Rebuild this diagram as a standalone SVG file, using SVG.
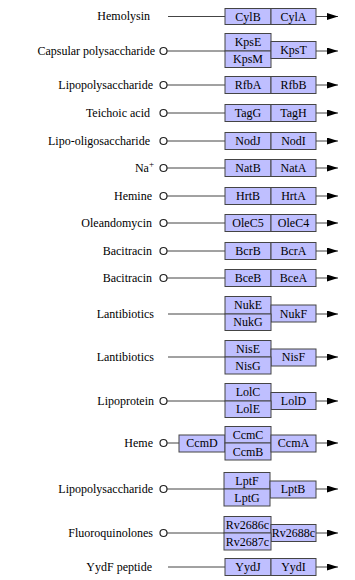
<svg xmlns="http://www.w3.org/2000/svg" width="355" height="580" viewBox="0 0 355 580" font-family="'Liberation Serif', 'DejaVu Serif', serif" font-size="12">
<style>
text{font-family:'Liberation Serif','DejaVu Serif',serif;font-size:12px;fill:#000}
.lbl{text-anchor:end}
.b text{text-anchor:middle}
.b rect{fill:#bfbfff;stroke:#444;stroke-width:1}
.ln{stroke:#444;stroke-width:1;fill:none}
.ci{fill:#fff;stroke:#222;stroke-width:1.2}
</style>
<defs>
<marker id="ah" markerWidth="12" markerHeight="8" refX="11" refY="3.5" orient="auto" markerUnits="userSpaceOnUse">
<path d="M0,0 L11,3.5 L0,7 Z" fill="#000"/>
</marker>
</defs>
<rect width="355" height="580" fill="#fff"/>
<g id="connectors">
<line class="ln" x1="168" y1="16.5" x2="225" y2="16.5"/>
<line class="ln" x1="316" y1="16.5" x2="338" y2="16.5" marker-end="url(#ah)"/>
<line class="ln" x1="167" y1="51" x2="225" y2="51"/>
<line class="ln" x1="316" y1="51" x2="338" y2="51" marker-end="url(#ah)"/>
<line class="ln" x1="167" y1="85" x2="225" y2="85"/>
<line class="ln" x1="316" y1="85" x2="338" y2="85" marker-end="url(#ah)"/>
<line class="ln" x1="167" y1="113" x2="225" y2="113"/>
<line class="ln" x1="316" y1="113" x2="338" y2="113" marker-end="url(#ah)"/>
<line class="ln" x1="167" y1="141" x2="225" y2="141"/>
<line class="ln" x1="316" y1="141" x2="338" y2="141" marker-end="url(#ah)"/>
<line class="ln" x1="167" y1="168" x2="225" y2="168"/>
<line class="ln" x1="316" y1="168" x2="338" y2="168" marker-end="url(#ah)"/>
<line class="ln" x1="167" y1="196" x2="225" y2="196"/>
<line class="ln" x1="316" y1="196" x2="338" y2="196" marker-end="url(#ah)"/>
<line class="ln" x1="167" y1="223" x2="225" y2="223"/>
<line class="ln" x1="316" y1="223" x2="338" y2="223" marker-end="url(#ah)"/>
<line class="ln" x1="167" y1="251" x2="225" y2="251"/>
<line class="ln" x1="316" y1="251" x2="338" y2="251" marker-end="url(#ah)"/>
<line class="ln" x1="167" y1="278" x2="225" y2="278"/>
<line class="ln" x1="316" y1="278" x2="338" y2="278" marker-end="url(#ah)"/>
<line class="ln" x1="168" y1="314" x2="225" y2="314"/>
<line class="ln" x1="316" y1="314" x2="338" y2="314" marker-end="url(#ah)"/>
<line class="ln" x1="168" y1="357" x2="225" y2="357"/>
<line class="ln" x1="316" y1="357" x2="338" y2="357" marker-end="url(#ah)"/>
<line class="ln" x1="167" y1="401" x2="225" y2="401"/>
<line class="ln" x1="316" y1="401" x2="338" y2="401" marker-end="url(#ah)"/>
<line class="ln" x1="167" y1="443" x2="179" y2="443"/>
<line class="ln" x1="316" y1="443" x2="338" y2="443" marker-end="url(#ah)"/>
<line class="ln" x1="167" y1="489" x2="224" y2="489"/>
<line class="ln" x1="316" y1="489" x2="338" y2="489" marker-end="url(#ah)"/>
<line class="ln" x1="167" y1="533" x2="224" y2="533"/>
<line class="ln" x1="316" y1="533" x2="338" y2="533" marker-end="url(#ah)"/>
<line class="ln" x1="168" y1="567" x2="225" y2="567"/>
<line class="ln" x1="316" y1="567" x2="338" y2="567" marker-end="url(#ah)"/>
</g>

<g id="row-hemolysin">
<text class="lbl" x="150" y="20">Hemolysin</text>
<g class="b"><rect x="225" y="8.5" width="46" height="16"/><text x="248" y="21">CylB</text>
<rect x="271" y="8.5" width="45" height="16"/><text x="293.5" y="21">CylA</text></g>
</g>

<g id="row-capsular">
<text class="lbl" x="155" y="55">Capsular polysaccharide</text>
<circle class="ci" cx="163.5" cy="51" r="3.5"/>
<g class="b"><rect x="225" y="33.5" width="46" height="17.5"/><text x="248" y="46">KpsE</text>
<rect x="225" y="51" width="46" height="16.5"/><text x="248" y="63">KpsM</text>
<rect x="271" y="41.5" width="45" height="17"/><text x="293.5" y="54">KpsT</text></g>
</g>

<g id="row-lps1">
<text class="lbl" x="153" y="89">Lipopolysaccharide</text>
<circle class="ci" cx="163.5" cy="85" r="3.5"/>
<g class="b"><rect x="225" y="76.5" width="46" height="17"/><text x="248" y="89">RfbA</text>
<rect x="271" y="76.5" width="45" height="17"/><text x="293.5" y="89">RfbB</text></g>
</g>

<g id="row-teichoic">
<text class="lbl" x="150" y="117">Teichoic acid</text>
<circle class="ci" cx="163.5" cy="113" r="3.5"/>
<g class="b"><rect x="225" y="104.5" width="46" height="17"/><text x="248" y="117">TagG</text>
<rect x="271" y="104.5" width="45" height="17"/><text x="293.5" y="117">TagH</text></g>
</g>

<g id="row-lipooligo">
<text class="lbl" x="150" y="145">Lipo-oligosaccharide</text>
<circle class="ci" cx="163.5" cy="141" r="3.5"/>
<g class="b"><rect x="225" y="132.5" width="46" height="17"/><text x="248" y="145">NodJ</text>
<rect x="271" y="132.5" width="45" height="17"/><text x="293.5" y="145">NodI</text></g>
</g>

<g id="row-na">
<text class="lbl" x="154" y="172">Na<tspan font-size="9" dy="-5">+</tspan></text>
<circle class="ci" cx="163.5" cy="168" r="3.5"/>
<g class="b"><rect x="225" y="159.5" width="46" height="17"/><text x="248" y="172">NatB</text>
<rect x="271" y="159.5" width="45" height="17"/><text x="293.5" y="172">NatA</text></g>
</g>

<g id="row-hemine">
<text class="lbl" x="152" y="200">Hemine</text>
<circle class="ci" cx="163.5" cy="196" r="3.5"/>
<g class="b"><rect x="225" y="187.5" width="46" height="17"/><text x="248" y="200">HrtB</text>
<rect x="271" y="187.5" width="45" height="17"/><text x="293.5" y="200">HrtA</text></g>
</g>

<g id="row-oleandomycin">
<text class="lbl" x="152" y="227">Oleandomycin</text>
<circle class="ci" cx="163.5" cy="223" r="3.5"/>
<g class="b"><rect x="225" y="214.5" width="46" height="17"/><text x="248" y="227">OleC5</text>
<rect x="271" y="214.5" width="45" height="17"/><text x="293.5" y="227">OleC4</text></g>
</g>

<g id="row-bacitracin1">
<text class="lbl" x="152" y="255">Bacitracin</text>
<circle class="ci" cx="163.5" cy="251" r="3.5"/>
<g class="b"><rect x="225" y="242.5" width="46" height="17"/><text x="248" y="255">BcrB</text>
<rect x="271" y="242.5" width="45" height="17"/><text x="293.5" y="255">BcrA</text></g>
</g>

<g id="row-bacitracin2">
<text class="lbl" x="152" y="282">Bacitracin</text>
<circle class="ci" cx="163.5" cy="278" r="3.5"/>
<g class="b"><rect x="225" y="269.5" width="46" height="17"/><text x="248" y="282">BceB</text>
<rect x="271" y="269.5" width="45" height="17"/><text x="293.5" y="282">BceA</text></g>
</g>

<g id="row-lantibiotics1">
<text class="lbl" x="154" y="318">Lantibiotics</text>
<g class="b"><rect x="225" y="296.5" width="46" height="17.5"/><text x="248" y="309">NukE</text>
<rect x="271" y="305" width="45" height="17"/><text x="293.5" y="318">NukF</text>
<rect x="225" y="314" width="46" height="16.5"/><text x="248" y="326">NukG</text></g>
</g>

<g id="row-lantibiotics2">
<text class="lbl" x="154" y="361">Lantibiotics</text>
<g class="b"><rect x="225" y="340.5" width="46" height="16.5"/><text x="248" y="353">NisE</text>
<rect x="271" y="349" width="45" height="17"/><text x="293.5" y="361">NisF</text>
<rect x="225" y="357" width="46" height="17"/><text x="248" y="370">NisG</text></g>
</g>

<g id="row-lipoprotein">
<text class="lbl" x="154" y="405">Lipoprotein</text>
<circle class="ci" cx="163.5" cy="401" r="3.5"/>
<g class="b"><rect x="225" y="383.5" width="46" height="17.5"/><text x="248" y="396">LolC</text>
<rect x="271" y="392.5" width="45" height="17"/><text x="293.5" y="405">LolD</text>
<rect x="225" y="401" width="46" height="16.5"/><text x="248" y="413">LolE</text></g>
</g>

<g id="row-heme">
<text class="lbl" x="153" y="447">Heme</text>
<circle class="ci" cx="163.5" cy="443" r="3.5"/>
<g class="b"><rect x="179" y="435" width="46" height="17"/><text x="202" y="447">CcmD</text>
<rect x="225" y="426.5" width="46" height="16.5"/><text x="248" y="439">CcmC</text>
<rect x="225" y="443" width="46" height="17"/><text x="248" y="456">CcmB</text>
<rect x="271" y="435" width="45" height="17"/><text x="293.5" y="447">CcmA</text></g>
</g>

<g id="row-lps2">
<text class="lbl" x="153" y="493">Lipopolysaccharide</text>
<circle class="ci" cx="163.5" cy="489" r="3.5"/>
<g class="b"><rect x="224" y="472.5" width="46" height="16.5"/><text x="247" y="485">LptF</text>
<rect x="270" y="481" width="46" height="17"/><text x="293" y="493">LptB</text>
<rect x="224" y="489" width="46" height="17"/><text x="247" y="502">LptG</text></g>
</g>

<g id="row-fluoroquinolones">
<text class="lbl" x="153" y="537">Fluoroquinolones</text>
<circle class="ci" cx="163.5" cy="533" r="3.5"/>
<g class="b"><rect x="224" y="516.5" width="47" height="16.5"/><text x="247.5" y="529">Rv2686c</text>
<rect x="271" y="524.5" width="45" height="17"/><text x="293.5" y="537">Rv2688c</text>
<rect x="224" y="533" width="47" height="17"/><text x="247.5" y="546">Rv2687c</text></g>
</g>

<g id="row-yydf">
<text class="lbl" x="152" y="571">YydF peptide</text>
<g class="b"><rect x="225" y="558.5" width="46" height="17"/><text x="248" y="571">YydJ</text>
<rect x="271" y="558.5" width="45" height="17"/><text x="293.5" y="571">YydI</text></g>
</g>
</svg>
